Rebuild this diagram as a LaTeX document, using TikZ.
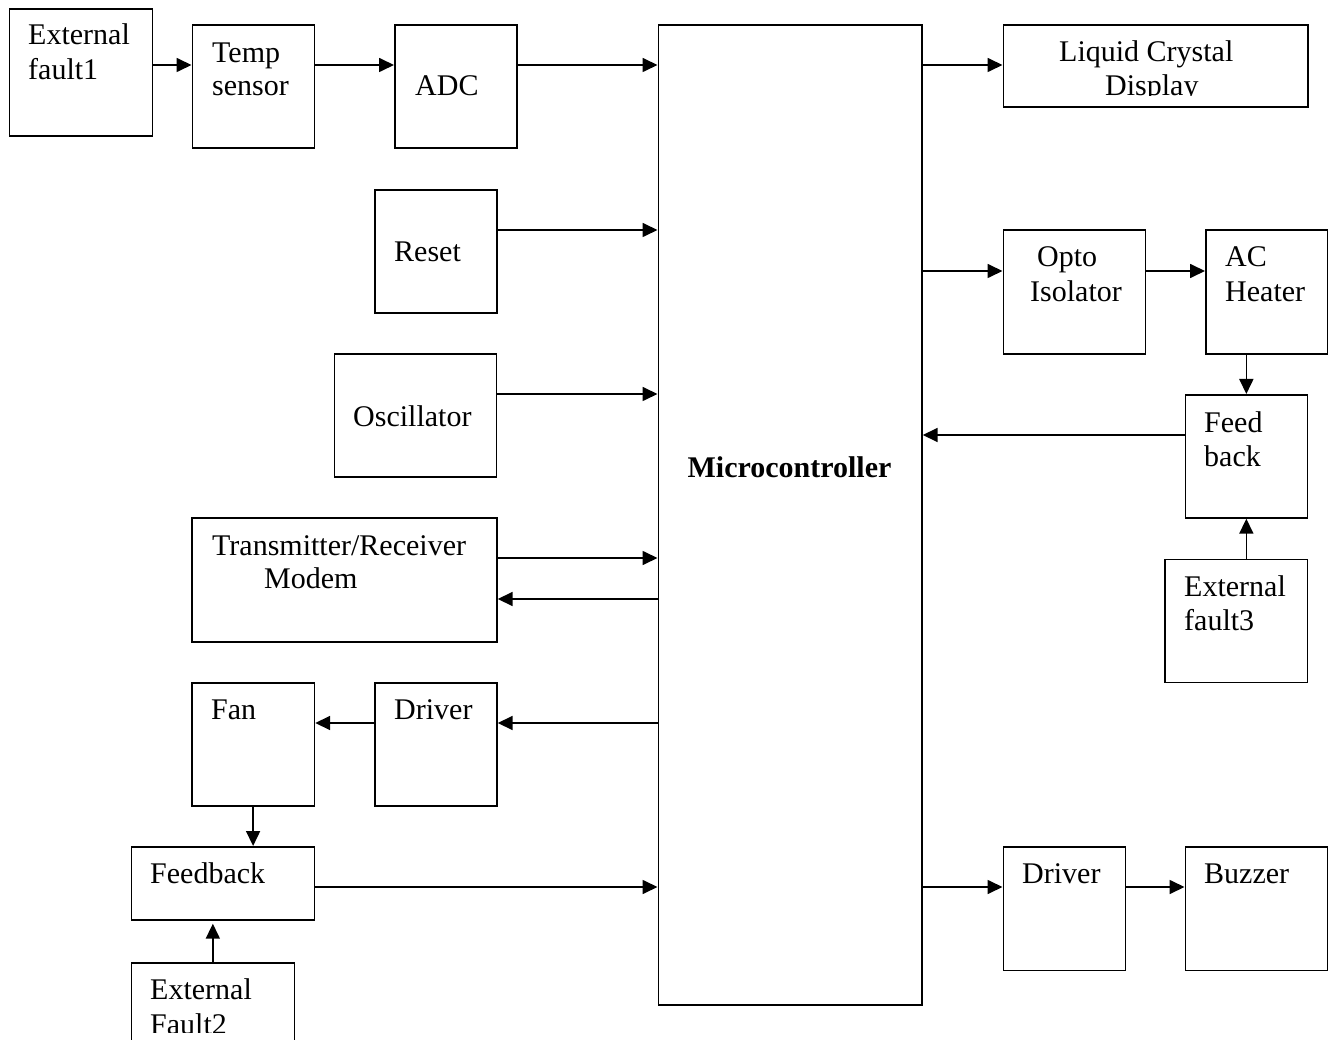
\documentclass[tikz,border=0pt]{standalone}
\usepackage{fontspec}
\setmainfont{Liberation Serif}
\usetikzlibrary{arrows.meta}
\begin{document}
\begin{tikzpicture}[x=1pt,y=-1pt,
  blk/.style={draw, line width=1.7pt, rectangle, inner sep=0pt, anchor=north west},
  txt/.style={inner sep=0pt, anchor=base west, font=\fontsize{30}{35}\selectfont},
  arr/.style={line width=1.7pt, -{Triangle[length=15pt,width=14pt]}}]
\useasboundingbox (0,0) rectangle (1328,1040);

% ---- blocks ----
\node[blk, minimum width=143pt,   minimum height=127pt]   (ef1)  at (8.5,8)      {};
\node[blk, minimum width=122pt,   minimum height=123pt]   (tmp)  at (191.5,24)   {};
\node[blk, minimum width=122pt,   minimum height=123pt]   (adc)  at (394,24)     {};
\node[blk, minimum width=122pt,   minimum height=123pt]   (rst)  at (374,189)    {};
\node[blk, minimum width=162pt,   minimum height=123pt]   (osc)  at (333.5,353)  {};
\node[blk, minimum width=305pt,   minimum height=124pt]   (trx)  at (191,517)    {};
\node[blk, minimum width=122.5pt, minimum height=123pt]   (fan)  at (191,682)    {};
\node[blk, minimum width=122pt,   minimum height=123pt]   (drvl) at (374,682)    {};
\node[blk, minimum width=183pt,   minimum height=73pt]    (fbl)  at (130.5,846)  {};
\node[blk, minimum width=163pt,   minimum height=120pt]   (ef2)  at (130.5,962)  {};
\node[blk, minimum width=263.5pt, minimum height=980pt]   (mcu)  at (657.5,24)   {};
\node[blk, minimum width=304.5pt, minimum height=82pt]    (lcd)  at (1002.5,24)  {};
\node[blk, minimum width=142pt,   minimum height=123.5pt] (opto) at (1002.5,229.5) {};
\node[blk, minimum width=121.5pt, minimum height=123.5pt] (ac)   at (1205,229.5) {};
\node[blk, minimum width=122pt,   minimum height=123pt]   (fbr)  at (1184.5,394) {};
\node[blk, minimum width=142.5pt, minimum height=123pt]   (ef3)  at (1164,558.5) {};
\node[blk, minimum width=122pt,   minimum height=123.5pt] (drvr) at (1002.5,846) {};
\node[blk, minimum width=142pt,   minimum height=123.5pt] (buz)  at (1184.5,846) {};

% ---- labels ----
\node[txt] (ef1-a)  at (28,45)    {External};
\node[txt] (ef1-b)  at (28,80)    {fault1};
\node[txt] (tmp-a)  at (212,63)   {Temp};
\node[txt] (tmp-b)  at (212,96)   {sensor};
\node[txt] (adc-a)  at (415,96)   {ADC};
\node[txt] (rst-a)  at (394,262)  {Reset};
\node[txt] (osc-a)  at (353,426)  {Oscillator};
\node[txt] (trx-a)  at (212,555)  {Transmitter/Receiver};
\node[txt] (trx-b)  at (264,588)  {Modem};
\node[txt] (fan-a)  at (211,719)  {Fan};
\node[txt] (drvl-a) at (394,719)  {Driver};
\node[txt] (fbl-a)  at (150,883)  {Feedback};
\node[txt] (ef2-a)  at (150,999)  {External};
\begin{scope}
  \clip (ef2.north west) rectangle (294,1032);
  \node[txt] (ef2-b) at (150,1034) {Fault2};
\end{scope}
\node[txt, anchor=base, font=\fontsize{30}{35}\selectfont\bfseries] (mcu-a) at (789.5,477) {Microcontroller};
\node[txt] (lcd-a)  at (1059,62)  {Liquid Crystal};
\begin{scope}
  \clip (lcd.north west) rectangle (1307,95.5);
  \node[txt] (lcd-b) at (1105,96) {Display};
\end{scope}
\node[txt] (opto-a) at (1037,267) {Opto};
\node[txt] (opto-b) at (1030,302) {Isolator};
\node[txt] (ac-a)   at (1225,267) {AC};
\node[txt] (ac-b)   at (1225,302) {Heater};
\node[txt] (fbr-a)  at (1204,432) {Feed};
\node[txt] (fbr-b)  at (1204,466) {back};
\node[txt] (ef3-a)  at (1184,596) {External};
\node[txt] (ef3-b)  at (1184,630) {fault3};
\node[txt] (drvr-a) at (1022,883) {Driver};
\node[txt] (buz-a)  at (1204,883) {Buzzer};

% ---- signal rows ----
\coordinate (r65)  at (0,65);
\coordinate (r230) at (0,230);
\coordinate (r270) at (0,271);
\coordinate (r394) at (0,394);
\coordinate (r435) at (0,435);
\coordinate (r558) at (0,558);
\coordinate (r599) at (0,599);
\coordinate (r722) at (0,723);
\coordinate (r887) at (0,887);

% ---- connectors ----
\draw[arr] (ef1.east |- r65) -- (tmp.west |- r65);
\draw[arr] (tmp.east |- r65) -- (adc.west |- r65);
\draw[arr] (adc.east |- r65) -- (mcu.west |- r65);
\draw[arr] (rst.east |- r230) -- (mcu.west |- r230);
\draw[arr] (osc.east |- r394) -- (mcu.west |- r394);
\draw[arr] (trx.east |- r558) -- (mcu.west |- r558);
\draw[arr] (mcu.west |- r599) -- (trx.east |- r599);
\draw[arr] (mcu.west |- r722) -- (drvl.east |- r722);
\draw[arr] (drvl.west |- r722) -- (fan.east |- r722);
\draw[arr] (fan.south) -- (fan.south |- fbl.north);
\draw[arr, shorten >=3pt] (ef2.north) -- (ef2.north |- fbl.south);
\draw[arr] (fbl.east |- r887) -- (mcu.west |- r887);

\draw[arr] (mcu.east |- r65) -- (lcd.west |- r65);
\draw[arr] (mcu.east |- r270) -- (opto.west |- r270);
\draw[arr] (opto.east |- r270) -- (ac.west |- r270);
\draw[arr] (ac.south -| fbr.north) -- (fbr.north);
\draw[arr] (fbr.west |- r435) -- (mcu.east |- r435);
\draw[arr] (ef3.north -| fbr.south) -- (fbr.south);
\draw[arr] (mcu.east |- r887) -- (drvr.west |- r887);
\draw[arr] (drvr.east |- r887) -- (buz.west |- r887);
\end{tikzpicture}
\end{document}
